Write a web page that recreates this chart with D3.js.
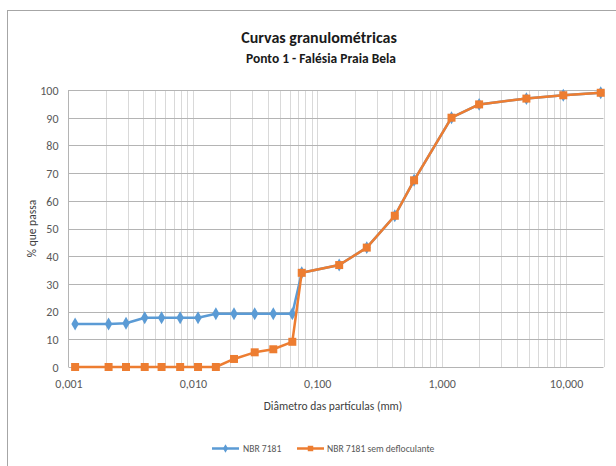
<!DOCTYPE html>
<html>
<head>
<meta charset="utf-8">
<script src="https://cdn.jsdelivr.net/npm/d3@7/dist/d3.min.js"></script>
<style>
  html, body { margin: 0; padding: 0; background: #fff; }
  svg { display: block; }
  text { font-family: Carlito, Calibri, "Liberation Sans Narrow", "Open Sans", sans-serif; }
</style>
</head>
<body>
<svg id="chart" width="616" height="466"></svg>
<script>
// Particle diameters (mm): sedimentation readings followed by the sieve series
const diameters = [0.00113, 0.0021, 0.0029, 0.0041, 0.0056, 0.0079, 0.011, 0.0153, 0.0214, 0.0314, 0.0443, 0.063,
                   0.075, 0.15, 0.25, 0.42, 0.6, 1.2, 2.0, 4.8, 9.5, 19.0];
// Percent passing, with deflocculant (NBR 7181)
const passingNBR = [15.5, 15.5, 15.8, 17.8, 17.8, 17.8, 17.8, 19.2, 19.2, 19.2, 19.2, 19.2,
                    34.0, 36.8, 43.1, 54.6, 67.4, 90.0, 94.8, 96.9, 98.1, 99.0];
// Percent passing, without deflocculant
const passingSemDefl = [0, 0, 0, 0, 0, 0, 0, 0, 2.9, 5.3, 6.4, 9.1,
                        34.0, 36.8, 43.1, 54.6, 67.4, 90.0, 94.8, 96.9, 98.1, 99.0];
const xTickValues = [0.001, 0.01, 0.1, 1, 10];
const xTickLabels = ["0,001", "0,010", "0,100", "1,000", "10,000"];
const yTickValues = [0, 10, 20, 30, 40, 50, 60, 70, 80, 90, 100];
const seriesNames = ["NBR 7181", "NBR 7181 sem defloculante"];
const seriesColors = ["#5b9bd5", "#ed7d31"];

const svg = d3.select("#chart");

// outer chart frame
svg.append("rect")
  .attr("x", 7.5).attr("y", 10.5).attr("width", 640).attr("height", 480)
  .attr("fill", "#fff").attr("stroke", "#a6a6a6").attr("stroke-width", 1);

const plot = { left: 68.5, right: 603.5, top: 90, bottom: 367 };

const x = d3.scaleLog().domain([0.001, 20]).range([plot.left, plot.right]);
const y = d3.scaleLinear().domain([0, 100]).range([plot.bottom, plot.top]);

// minor vertical gridlines (1..9 within each decade)
const minorTicks = [];
for (let e = -3; e <= 1; e++) {
  for (let m = 1; m <= 9; m++) {
    const v = m * Math.pow(10, e);
    if (v > 0.001 && v <= 20) minorTicks.push(v);
  }
}
svg.append("g").selectAll("line").data(minorTicks).join("line")
  .attr("x1", d => Math.round(x(d)) + 0.5).attr("x2", d => Math.round(x(d)) + 0.5)
  .attr("y1", plot.top).attr("y2", plot.bottom)
  .attr("stroke", "#d9d9d9").attr("stroke-width", 1);

// horizontal gridlines
svg.append("g").selectAll("line").data(yTickValues).join("line")
  .attr("x1", plot.left).attr("x2", plot.right)
  .attr("y1", d => Math.round(y(d)) + 0.5).attr("y2", d => Math.round(y(d)) + 0.5)
  .attr("stroke", "#b4b4b4").attr("stroke-width", 1);

// left edge of the plot area
svg.append("line")
  .attr("x1", plot.left).attr("x2", plot.left)
  .attr("y1", plot.top).attr("y2", plot.bottom)
  .attr("stroke", "#b4b4b4");

// y axis labels
const yAxis = d3.axisLeft(y).tickValues(yTickValues).tickSize(0).tickPadding(10);
const gy = svg.append("g").attr("transform", `translate(${plot.left},0.5)`).call(yAxis);
gy.select(".domain").remove();
gy.selectAll("text").attr("fill", "#595959").style("font-size", "12px");

// x axis labels
const xAxis = d3.axisBottom(x).tickValues(xTickValues)
  .tickFormat((d, i) => xTickLabels[i]).tickSize(0).tickPadding(12);
const gx = svg.append("g").attr("transform", `translate(0,${plot.bottom})`).call(xAxis);
gx.select(".domain").remove();
gx.selectAll("text").attr("fill", "#595959").style("font-size", "12px");

// axis titles
svg.append("text")
  .attr("x", (plot.left + plot.right) / 2 - 3).attr("y", 410)
  .attr("text-anchor", "middle").attr("fill", "#404040").style("font-size", "11.5px")
  .text("Diâmetro das partículas (mm)");
svg.append("text")
  .attr("transform", `translate(36,${(plot.top + plot.bottom) / 2}) rotate(-90)`)
  .attr("text-anchor", "middle").attr("fill", "#404040").style("font-size", "11.5px")
  .text("% que passa");

// titles
svg.append("text")
  .attr("x", 319).attr("y", 43)
  .attr("text-anchor", "middle").attr("fill", "#1a1a1a")
  .style("font-size", "16px").style("font-weight", "bold")
  .text("Curvas granulométricas");
svg.append("text")
  .attr("x", 321).attr("y", 63)
  .attr("text-anchor", "middle").attr("fill", "#1a1a1a")
  .style("font-size", "13.5px").style("font-weight", "bold")
  .text("Ponto 1 - Falésia Praia Bela");

// series
const line = d3.line().x(d => x(d[0])).y(d => y(d[1]));
const series = [
  diameters.map((d, i) => [d, passingNBR[i]]),
  diameters.map((d, i) => [d, passingSemDefl[i]])
];

const diamond = d3.symbol().type(d3.symbolDiamond).size(48);
const square = d3.symbol().type(d3.symbolSquare).size(64);

series.forEach((pts, k) => {
  svg.append("path").datum(pts)
    .attr("d", line).attr("fill", "none")
    .attr("stroke", seriesColors[k]).attr("stroke-width", 2.5)
    .attr("stroke-linejoin", "round");
  svg.append("g").selectAll("path").data(pts).join("path")
    .attr("transform", d => `translate(${x(d[0])},${y(d[1])})`)
    .attr("d", k === 0 ? diamond : square)
    .attr("fill", seriesColors[k]);
});

// legend
const legend = [
  { x0: 212, x1: 239, tx: 243 },
  { x0: 297, x1: 324, tx: 327 }
];
legend.forEach((l, k) => {
  const ly = 448.5;
  svg.append("line").attr("x1", l.x0).attr("x2", l.x1).attr("y1", ly).attr("y2", ly)
    .attr("stroke", seriesColors[k]).attr("stroke-width", 2.5);
  svg.append("path")
    .attr("transform", `translate(${(l.x0 + l.x1) / 2},${ly})`)
    .attr("d", d3.symbol().type(k === 0 ? d3.symbolDiamond : d3.symbolSquare).size(k === 0 ? 22 : 30))
    .attr("fill", seriesColors[k]);
  svg.append("text").attr("x", l.tx).attr("y", ly + 3.5)
    .attr("fill", "#595959").style("font-size", "9.6px")
    .text(seriesNames[k]);
});
</script>
</body>
</html>
